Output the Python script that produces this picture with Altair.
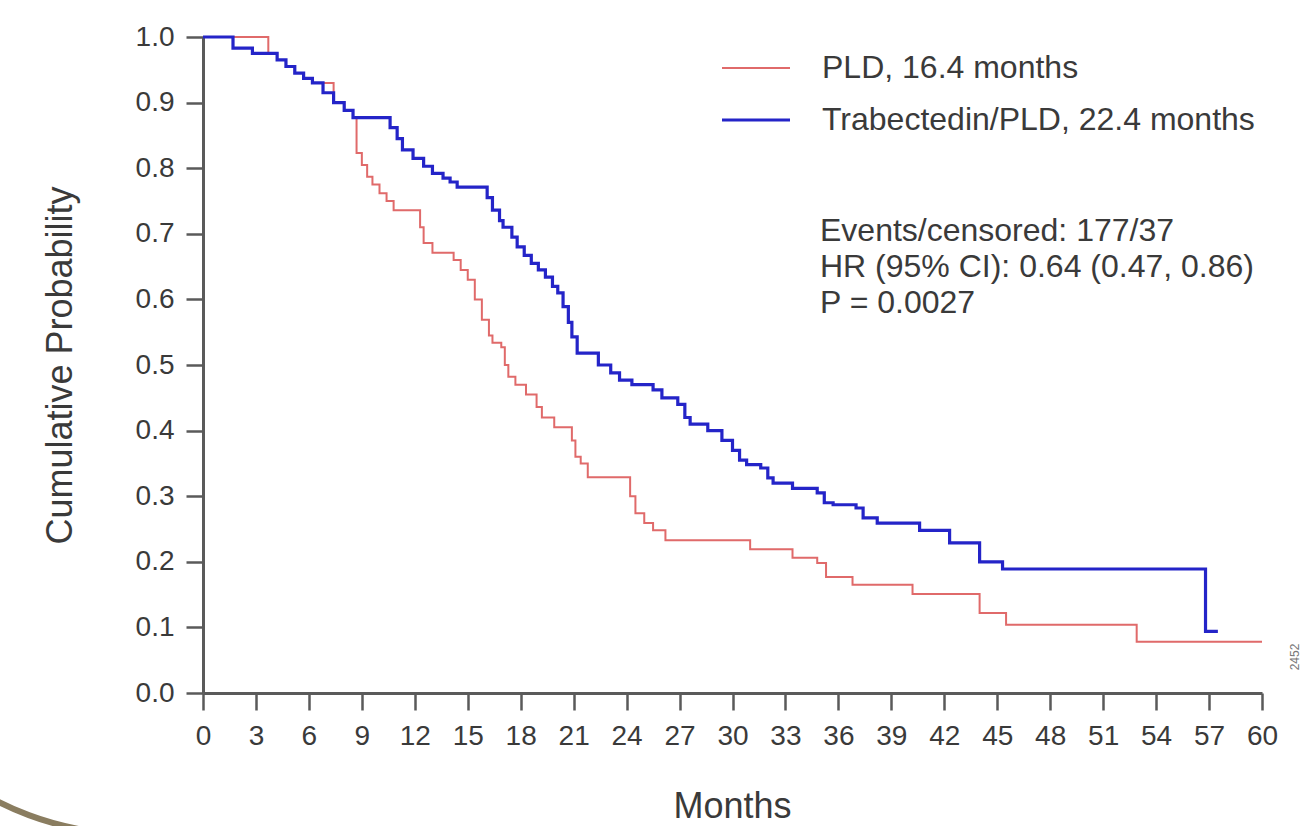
import altair as alt
import pandas as pd

# ---- data ----
series_names = ["PLD, 16.4 months", "Trabectedin/PLD, 22.4 months"]
series_colors = ["#e06a6a", "#2424c8"]

pld_months = [0, 3.7, 4.2, 4.7, 5.2, 5.7, 6.2, 7.4, 8.0, 8.5, 8.7, 9.0, 9.3, 9.6, 10.0,
              10.4, 10.8, 12.3, 12.5, 13.0, 14.2, 14.6, 15.0, 15.4, 15.8, 16.2, 16.4,
              16.9, 17.1, 17.3, 17.7, 18.3, 18.9, 19.2, 19.9, 20.9, 21.1, 21.4, 21.8,
              24.2, 24.5, 25.0, 25.5, 26.2, 31.0, 33.4, 34.8, 35.3, 36.8, 40.2, 44.0,
              45.5, 52.9, 60.0]
pld_surv = [1.0, 0.975, 0.965, 0.955, 0.945, 0.937, 0.93, 0.90, 0.888, 0.877, 0.823, 0.805,
            0.787, 0.775, 0.762, 0.75, 0.736, 0.71, 0.686, 0.671, 0.66, 0.645, 0.63, 0.60,
            0.569, 0.545, 0.534, 0.527, 0.50, 0.482, 0.47, 0.455, 0.436, 0.42, 0.405, 0.385,
            0.36, 0.35, 0.329, 0.30, 0.274, 0.259, 0.248, 0.233, 0.219, 0.206, 0.198, 0.177,
            0.165, 0.151, 0.122, 0.104, 0.078, 0.078]

trab_months = [0, 1.7, 2.8, 4.2, 4.7, 5.2, 5.7, 6.2, 6.8, 7.4, 8.0, 8.5, 10.6, 11.0, 11.3,
               11.9, 12.5, 13.0, 13.6, 14.0, 14.4, 16.1, 16.4, 16.8, 17.0, 17.5, 17.8, 18.2,
               18.6, 19.0, 19.4, 19.8, 20.1, 20.4, 20.7, 20.9, 21.2, 22.4, 23.1, 23.6, 24.3,
               25.5, 26.0, 26.9, 27.3, 27.6, 28.6, 29.4, 30.0, 30.4, 30.8, 31.6, 32.0, 32.3,
               33.4, 34.8, 35.2, 35.7, 37.0, 37.4, 38.2, 40.6, 42.3, 44.0, 45.3, 56.8, 57.5]
trab_surv = [1.0, 0.983, 0.975, 0.965, 0.955, 0.945, 0.937, 0.93, 0.915, 0.90, 0.888, 0.877,
             0.862, 0.845, 0.828, 0.815, 0.803, 0.792, 0.785, 0.779, 0.771, 0.755, 0.736,
             0.72, 0.71, 0.695, 0.68, 0.667, 0.655, 0.645, 0.634, 0.62, 0.61, 0.589, 0.565,
             0.543, 0.518, 0.50, 0.488, 0.477, 0.47, 0.462, 0.45, 0.44, 0.42, 0.41, 0.40,
             0.385, 0.37, 0.355, 0.348, 0.343, 0.328, 0.32, 0.312, 0.305, 0.29, 0.287, 0.282,
             0.267, 0.259, 0.248, 0.229, 0.20, 0.189, 0.094, 0.094]

x_ticks = list(range(0, 61, 3))
y_ticks = [round(i / 10, 1) for i in range(11)]

annotation_lines = ["Events/censored: 177/37", "HR (95% CI): 0.64 (0.47, 0.86)", "P = 0.0027"]
figure_code = "2452"

FONT = "Liberation Sans"
TEXT = "#3a3a3a"
AXIS = "#5a5a5a"

df = pd.concat([
    pd.DataFrame({"month": pld_months, "prob": pld_surv, "series": series_names[0]}),
    pd.DataFrame({"month": trab_months, "prob": trab_surv, "series": series_names[1]}),
])

lines = alt.Chart(df).mark_line(interpolate="step-after").encode(
    x=alt.X("month:Q", scale=alt.Scale(domain=[0, 60], nice=False),
            axis=alt.Axis(values=x_ticks, title="Months", format="d")),
    y=alt.Y("prob:Q", scale=alt.Scale(domain=[0, 1], nice=False),
            axis=alt.Axis(values=y_ticks, title="Cumulative Probability", format=".1f")),
    color=alt.Color("series:N", scale=alt.Scale(domain=series_names, range=series_colors),
                    legend=alt.Legend(title=None, orient="none", legendX=534, legendY=13,
                                      symbolType="M-2,0H2", symbolSize=1156,
                                      symbolStrokeWidth=2.5, symbolFillColor="transparent",
                                      labelFontSize=32, labelLimit=0,
                                      labelFont=FONT, labelColor=TEXT, labelOffset=47,
                                      rowPadding=17, padding=0)),
    strokeWidth=alt.StrokeWidth("series:N", scale=alt.Scale(domain=series_names, range=[2, 3.2]),
                                legend=None),
    order="month:Q",
)

annot_df = pd.DataFrame({"t": [annotation_lines]})
annot = alt.Chart(annot_df).mark_text(
    align="left", baseline="middle", font=FONT, fontSize=32, color=TEXT, lineHeight=36
).encode(x=alt.value(617), y=alt.value(194), text="t")

code_df = pd.DataFrame({"t": [figure_code]})
code = alt.Chart(code_df).mark_text(
    angle=270, align="center", baseline="middle", font=FONT, fontSize=12, color="#777"
).encode(x=alt.value(1092), y=alt.value(620), text="t:N")

arc_df = pd.DataFrame({"k": [1]})
arc = alt.Chart(arc_df).mark_arc(color="#8a7d60").encode(
    x=alt.value(-70), y=alt.value(500),
    radius=alt.value(300), radius2=alt.value(294),
    theta=alt.value(3.1), theta2=alt.value(3.9),
)

chart = alt.layer(lines, annot, code, arc).properties(
    width=1059, height=656,
    autosize=alt.AutoSizeParams(type="none"),
    padding={"left": 203, "top": 37, "right": 44, "bottom": 133},
    background="white",
).configure_view(stroke=None).configure_axis(
    grid=False, domainColor=AXIS, domainWidth=3, tickColor=AXIS, tickWidth=2.5,
    tickSize=17, labelFont=FONT, labelFontSize=28, labelColor=TEXT,
    titleFont=FONT, titleFontSize=36, titleColor=TEXT, titleFontWeight="normal",
).configure_axisX(
    titleX=529, titleY=113, titleBaseline="middle", titleAnchor="middle", labelFlush=False,
    labelPadding=12,
).configure_axisY(
    titleX=-143, titleY=328, titleBaseline="middle", titleAngle=270, titleAlign="center",
    labelFlush=False, labelPadding=12,
)

chart.save("out.html", embed_options={"renderer": "svg", "actions": False})
